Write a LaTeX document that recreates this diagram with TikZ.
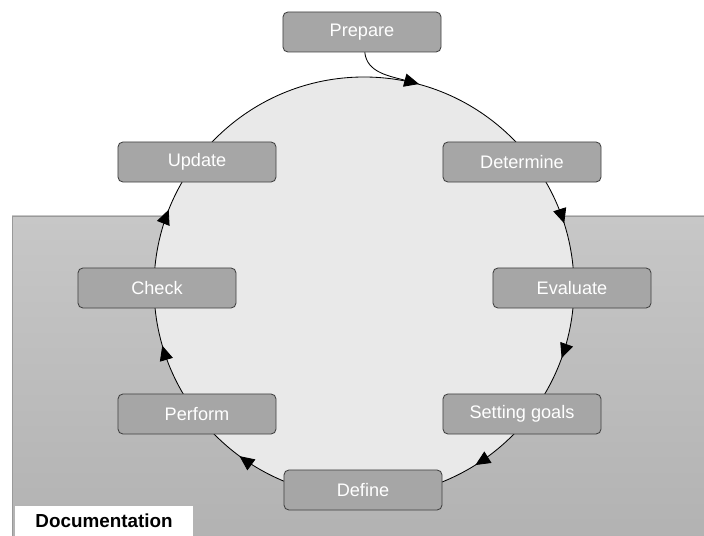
\documentclass[tikz,border=0pt]{standalone}
\usepackage{fontspec}
\setmainfont{Liberation Sans}
\usetikzlibrary{arrows.meta,decorations.markings}
\definecolor{boxgray}{HTML}{A6A6A6}
\definecolor{boxline}{HTML}{404040}
\definecolor{ringfill}{HTML}{E9E9E9}
\definecolor{bgtop}{HTML}{C7C7C7}
\definecolor{bgbottom}{HTML}{B2B2B2}

\begin{document}
\begin{tikzpicture}[x=0.025cm, y=-0.025cm,
  phase/.style={draw=boxline, line width=0.6pt, fill=boxgray, rounded corners=3.5pt,
    minimum width=3.95cm, minimum height=1cm, text=white,
    font=\fontsize{12.9}{15}\selectfont},
  tip/.style={-{Triangle[length=10.5pt,width=9.5pt]}},
  ring/.style={fill=ringfill, line width=0.6pt, postaction={decorate},
    decoration={markings,
      mark=at position 0.055 with {\arrow{Triangle[length=10.5pt,width=9.5pt]}},
      mark=at position 0.161 with {\arrow{Triangle[length=10.5pt,width=9.5pt]}},
      mark=at position 0.351 with {\arrow{Triangle[length=10.5pt,width=9.5pt]}},
      mark=at position 0.455 with {\arrow{Triangle[length=10.5pt,width=9.5pt]}},
      mark=at position 0.560 with {\arrow{Triangle[length=10.5pt,width=9.5pt]}},
      mark=at position 0.951 with {\arrow{Triangle[length=10.5pt,width=9.5pt]}}}}
]
\useasboundingbox (0,0) rectangle (704,536);

% we draw the grey area
\shadedraw[top color=bgtop, bottom color=bgbottom, draw=black!40, line width=0.5pt]
  (12,216) rectangle (710,542);

% the label in the corner
\node (doc)[fill=white, minimum width=4.45cm, minimum height=0.75cm,
  font=\fontsize{13.4}{15}\selectfont\bfseries] at (104,521) {Documentation};

% the cycle
\coordinate (c) at (364,287);
\draw[ring] (c) circle (210);

% the steps
\node (prep)[phase] at (362,32) {Prepare};
\node (det)[phase] at (522,162) {Determine};
\node (eval)[phase] at (572,288) {Evaluate};
\node (goals)[phase] at (522,414) {Setting goals};
\node (def)[phase] at (363,490) {Define};
\node (perf)[phase] at (197,414) {Perform};
\node (check)[phase] at (157,288) {Check};
\node (upd)[phase] at (197,162) {Update};

% prepare feeds the cycle
\coordinate (entry) at (419,84);
\draw[tip, line width=0.6pt] ([xshift=2pt]prep.south) .. controls +(2,20) and +(-30,-8) .. (entry);

\end{tikzpicture}
\end{document}
